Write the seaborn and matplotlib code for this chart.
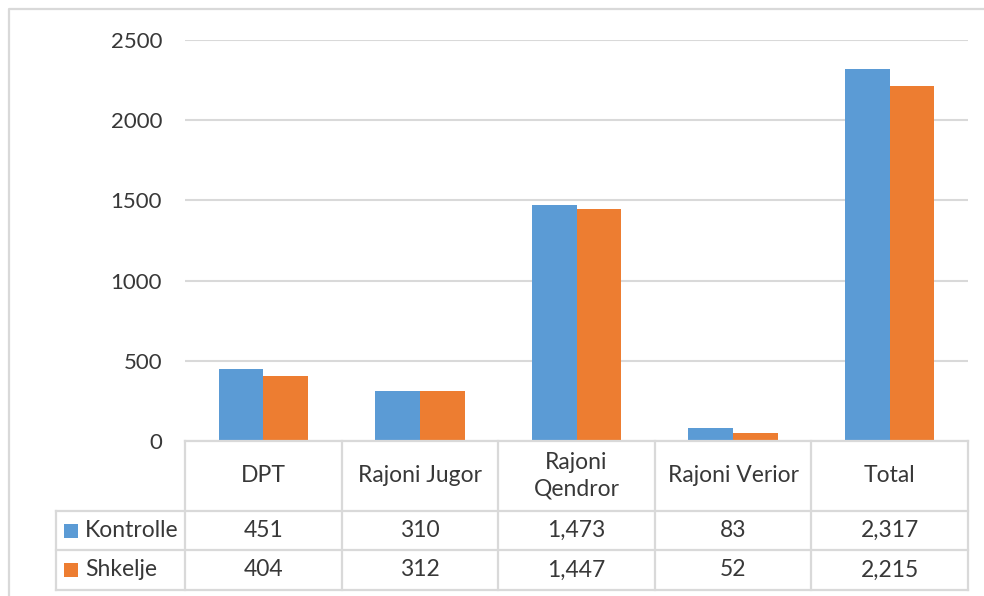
import matplotlib
matplotlib.use("Agg")
import matplotlib.pyplot as plt
import matplotlib.transforms as mtransforms
from matplotlib.lines import Line2D
from matplotlib.patches import Rectangle
import seaborn as sns
import pandas as pd

categories = ["DPT", "Rajoni Jugor", "Rajoni\nQendror", "Rajoni Verior", "Total"]
series = ["Kontrolle", "Shkelje"]
kontrolle = [451, 310, 1473, 83, 2317]
shkelje = [404, 312, 1447, 52, 2215]
yticks = [0, 500, 1000, 1500, 2000, 2500]
colors = ["#5B9BD5", "#ED7D31"]

df = pd.DataFrame({
    "category": categories * 2,
    "series": [series[0]] * len(categories) + [series[1]] * len(categories),
    "value": kontrolle + shkelje,
})

sns.set_theme(style="white")
plt.rcParams["font.family"] = ["Lato", "DejaVu Sans"]

TEXT = "#383838"
GRID = "#D9D9D9"
FS = 16.5
FS_TICK = 16

W, H = 984, 596
fig = plt.figure(figsize=(W / 100, H / 100), dpi=100)
fig.patch.set_facecolor("white")


def fx(px):
    return px / W


def fy(py):
    return 1 - py / H


ax = fig.add_axes([fx(185), fy(441), fx(968) - fx(185), fy(40) - fy(441)])
sns.barplot(data=df, x="category", y="value", hue="series", order=categories,
            hue_order=series, palette=colors, width=0.57, gap=0, saturation=1,
            legend=False, ax=ax, edgecolor="none", linewidth=0)
ax.set_xlim(-0.5, len(categories) - 0.5)
ax.set_ylim(0, 2500)
ax.set_yticks(yticks)
ax.set_yticklabels([str(t) for t in yticks])
ax.set_xticks([])
ax.set_xlabel("")
ax.set_ylabel("")
ax.yaxis.grid(True, color=GRID, lw=1.5)
ax.set_axisbelow(True)
for s in ax.spines.values():
    s.set_visible(False)
ax.tick_params(axis="y", length=0, pad=16.5, labelsize=FS_TICK, labelcolor=TEXT)

# blended transform: x in data units, y in figure fraction
bt = mtransforms.blended_transform_factory(ax.transData, fig.transFigure)
ft = fig.transFigure

line_kw = dict(color=GRID, lw=1.6, solid_capstyle="projecting")

# outer chart border
fig.add_artist(Line2D([fx(9), fx(9), fx(984)], [fy(596), fy(9), fy(9)], transform=ft, **line_kw))

# table geometry (pixel rows)
y_top, y_r1, y_r2, y_bot = 441, 511, 550, 590
x_leg = 56
n = len(categories)
xr = ax.transData.transform((n - 0.5, 0))[0] / W

# horizontal lines
fig.add_artist(Line2D([-0.5, n - 0.5], [fy(y_top)] * 2, transform=bt, **line_kw))
for yy in (y_r1, y_r2, y_bot):
    fig.add_artist(Line2D([fx(x_leg), xr], [fy(yy)] * 2, transform=ft, **line_kw))

# vertical lines
for i in range(n + 1):
    fig.add_artist(Line2D([i - 0.5, i - 0.5], [fy(y_top), fy(y_bot)], transform=bt, **line_kw))
fig.add_artist(Line2D([fx(x_leg)] * 2, [fy(y_r1), fy(y_bot)], transform=ft, **line_kw))

# header text
for i, c in enumerate(categories):
    fig.text(i, fy((y_top + y_r1) / 2), c, transform=bt, ha="center", va="center",
             fontsize=FS, color=TEXT, linespacing=1.3)

# value rows
rows = [(kontrolle, y_r1, y_r2), (shkelje, y_r2, y_bot)]
for (vals, ya, yb), name, col in zip(rows, series, colors):
    yc = (ya + yb) / 2
    for i, v in enumerate(vals):
        fig.text(i, fy(yc), f"{v:,}", transform=bt, ha="center", va="center",
                 fontsize=FS, color=TEXT)
    fig.add_artist(Rectangle((fx(64), fy(yc + 7)), fx(14), fy(0) - fy(14),
                             transform=ft, facecolor=col, edgecolor="none"))
    fig.text(fx(85), fy(yc), name, transform=ft, ha="left", va="center",
             fontsize=FS, color=TEXT)

fig.savefig("out.png", dpi=100)
